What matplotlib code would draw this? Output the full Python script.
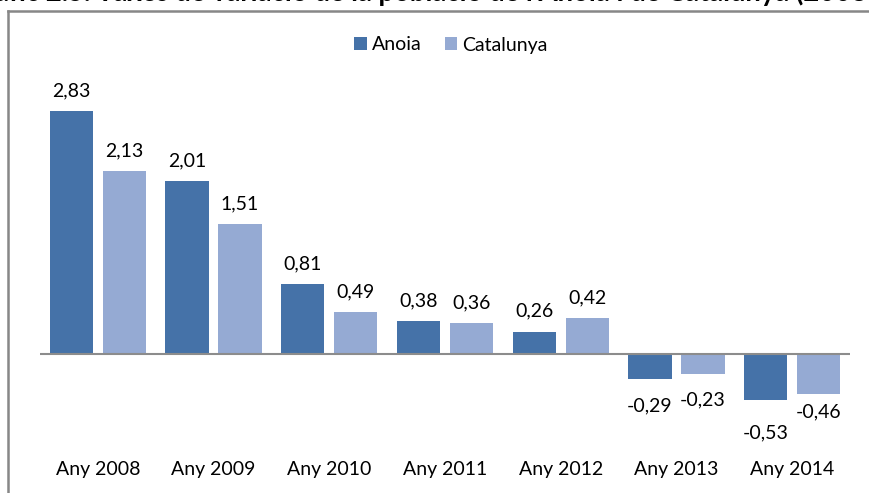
import matplotlib
matplotlib.use("Agg")
import matplotlib.pyplot as plt
from matplotlib.lines import Line2D
import numpy as np

categories = ["Any 2008", "Any 2009", "Any 2010", "Any 2011", "Any 2012", "Any 2013", "Any 2014"]
anoia = [2.83, 2.01, 0.81, 0.38, 0.26, -0.29, -0.53]
catalunya = [2.13, 1.51, 0.49, 0.36, 0.42, -0.23, -0.46]
series_names = ["Anoia", "Catalunya"]
title_prefix = "Gràfic 2.5. "
title_body = "Taxes de variació de la població de l'Anoia i de Catalunya (2008-2014)"

c_anoia = "#4572A8"
c_cat = "#95AAD3"
FONT = "Lato"
plt.rcParams['font.family'] = [FONT, 'DejaVu Sans']

W, H = 869, 493
fig = plt.figure(figsize=(W / 100, H / 100), dpi=100)
renderer = fig.canvas.get_renderer()

# frame (partially cut)
fig.add_artist(Line2D([8 / W, 8 / W], [0, 1 - 11 / H], transform=fig.transFigure,
                      color="#878787", lw=1.8))
fig.add_artist(Line2D([8 / W, 1.0], [1 - 11 / H, 1 - 11 / H], transform=fig.transFigure,
                      color="#878787", lw=1.8))

# title, cut at top: size so that "Taxes ... (2008" spans ~768 px, starting at x=97
probe_sz = 12.0
t = fig.text(0, 0, "Taxes de variació de la població de l'Anoia i de Catalunya (2008",
             fontsize=probe_sz, fontweight="bold")
wbody = t.get_window_extent(renderer).width
t.remove()
tsz = probe_sz * 768 / wbody
t = fig.text(0, 0, title_prefix, fontsize=tsz, fontweight="bold")
wpre = t.get_window_extent(renderer).width
t.remove()
fig.text((97 - wpre) / W, 1 - 1.5 / H, title_prefix + title_body, fontsize=tsz,
         fontweight="bold", ha="left", va="baseline", color="black")

# axes: x from 40 to 850 px; zero at y=354 px, 85.9 px per unit
left, right = 40, 850
ymin, ymax = -1.0, 3.5
scale = 85.9
zero_px = 354
top_px = zero_px - ymax * scale
bot_px = zero_px - ymin * scale
ax = fig.add_axes([left / W, 1 - bot_px / H, (right - left) / W, (bot_px - top_px) / H])
ax.set_xlim(-0.5, len(categories) - 0.5)
ax.set_ylim(ymin, ymax)
for s in ax.spines.values():
    s.set_visible(False)
ax.set_yticks([])
ax.set_xticks([])

x = np.arange(len(categories))
w = 0.375
off = 0.229
b1 = ax.bar(x - off, anoia, w, color=c_anoia, label=series_names[0], zorder=2)
b2 = ax.bar(x + off, catalunya, w, color=c_cat, label=series_names[1], zorder=2)
ax.axhline(0, color="#8c8c8c", lw=1.5, zorder=3)

FS = 14
# label centre distances (px) below negative bars, as placed in the reference
neg_gap = {("a", 5): 27, ("a", 6): 33, ("c", 5): 26, ("c", 6): 18.5}
for key, xs, vals in (("a", x - off, anoia), ("c", x + off, catalunya)):
    for i, (xi, v) in enumerate(zip(xs, vals)):
        lab = f"{v:.2f}".replace(".", ",")
        if v >= 0:
            ax.annotate(lab, (xi, v), xytext=(0, 12), textcoords="offset pixels",
                        ha="center", va="bottom", fontsize=FS, color="black")
        else:
            ax.annotate(lab, (xi, v), xytext=(0, -neg_gap.get((key, i), 27)),
                        textcoords="offset pixels",
                        ha="center", va="center", fontsize=FS, color="black")

for xi, c in zip(x, categories):
    ax.annotate(c, (xi, 0), xycoords=("data", "figure pixels"), xytext=(xi, H - 470),
                textcoords=("data", "figure pixels"), ha="center", va="center",
                fontsize=FS, color="black")

leg = fig.legend(handles=[b1, b2], labels=series_names, loc="center",
                 bbox_to_anchor=(451 / W, 1 - 45 / H), ncol=2, frameon=False,
                 fontsize=FS, handlelength=0.65, handleheight=0.65, handletextpad=0.25,
                 columnspacing=1.2)

fig.savefig("out.png", dpi=100)
